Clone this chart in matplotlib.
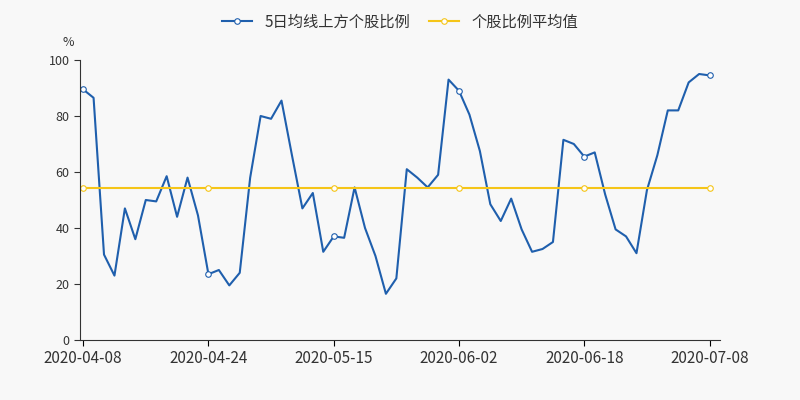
import matplotlib
matplotlib.use("Agg")
import matplotlib.pyplot as plt

plt.rcParams['font.family'] = ['Noto Sans CJK SC', 'DejaVu Sans']

tick_labels = ["2020-04-08", "2020-04-24", "2020-05-15", "2020-06-02", "2020-06-18", "2020-07-08"]
tick_index = [0, 12, 24, 36, 48, 60]
values = [89.5, 86.5, 30.5, 23, 47, 36, 50, 49.5, 58.5, 44, 58, 44.5, 23.5, 25, 19.5, 24,
          58, 80, 79, 85.5, 66, 47, 52.5, 31.5, 37, 36.5, 54.5, 40, 30, 16.5, 22, 61, 58,
          54.5, 59, 93, 89, 80.5, 67.5, 48.5, 42.5, 50.5, 39.5, 31.5, 32.5, 35, 71.5, 70,
          65.5, 67, 52, 39.5, 37, 31, 53.5, 66, 82, 82, 92, 95, 94.5]
avg_value = 54.2
x = list(range(len(values)))
avg = [avg_value] * len(values)

fig = plt.figure(figsize=(8, 4), dpi=100, facecolor='#f8f8f8')
ax = fig.add_axes([0.10, 0.15, 0.80, 0.70])
ax.set_facecolor('#f8f8f8')
ax.plot(x, values, color='#1f5fad', lw=1.5, marker='o', markevery=12, ms=4,
        mfc='white', mec='#1f5fad', mew=0.8, label='5日均线上方个股比例')
ax.plot(x, avg, color='#f5c518', lw=1.5, marker='o', markevery=12, ms=4,
        mfc='white', mec='#f5c518', mew=0.8, label='个股比例平均值')
ax.set_xlim(-0.3, 61.0)
ax.set_ylim(0, 100)
ax.set_yticks([0, 20, 40, 60, 80, 100])
ax.set_xticks(tick_index)
ax.set_xticklabels(tick_labels, fontsize=11, color='#333333')
ax.tick_params(axis='y', labelsize=9, colors='#333333', length=4)
ax.tick_params(axis='x', length=4)
for s in ['top', 'right']:
    ax.spines[s].set_visible(False)
ax.spines['left'].set_color('#333333')
ax.spines['bottom'].set_color('#333333')
ax.text(-0.01, 1.05, '%', transform=ax.transAxes, fontsize=9, ha='right', color='#333333')
fig.legend(loc='upper center', bbox_to_anchor=(0.5, 1.0), ncol=2, frameon=False,
           fontsize=11, labelcolor='#333333', handlelength=2, columnspacing=1.2)
fig.savefig('out.png', facecolor=fig.get_facecolor())
